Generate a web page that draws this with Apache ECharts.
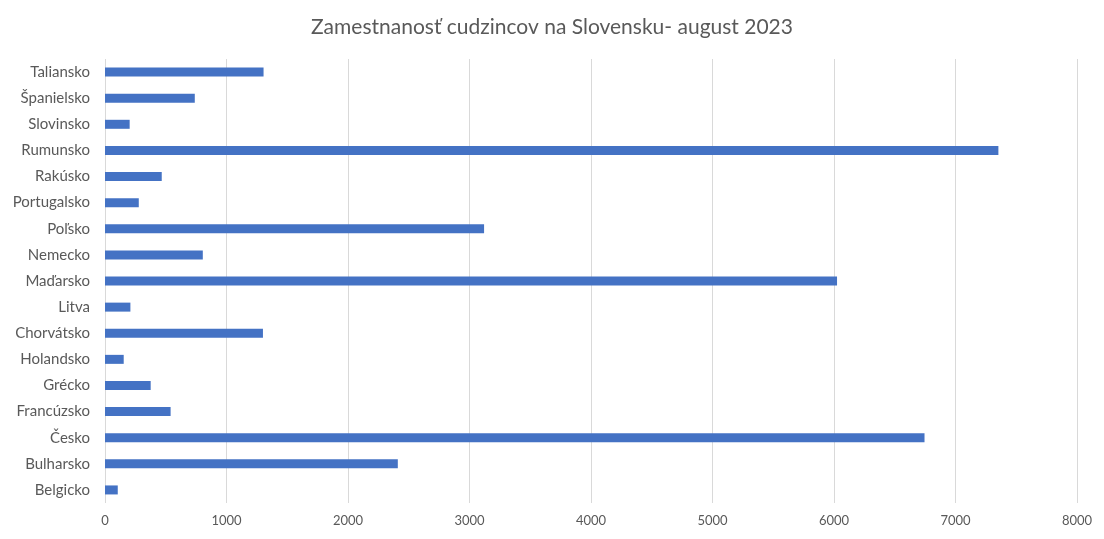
<!DOCTYPE html>
<html>
<head>
<meta charset="utf-8">
<script src="https://cdn.jsdelivr.net/npm/echarts@6/dist/echarts.min.js"></script>
<style>
html,body{margin:0;padding:0;background:#fff;}
#chart{width:1104px;height:539px;}
</style>
</head>
<body>
<div id="chart"></div>
<script>
const titleText = 'Zamestnanosť cudzincov na Slovensku- august 2023';
const categories = ['Belgicko','Bulharsko','Česko','Francúzsko','Grécko','Holandsko','Chorvátsko','Litva','Maďarsko','Nemecko','Poľsko','Portugalsko','Rakúsko','Rumunsko','Slovinsko','Španielsko','Taliansko'];
const values = [105, 2410, 6745, 540, 376, 154, 1300, 209, 6025, 805, 3120, 278, 467, 7353, 203, 739, 1305];
const axisMin = 0, axisMax = 8000, axisStep = 1000;

const chart = echarts.init(document.getElementById('chart'));
const font = 'Lato, "Open Sans", sans-serif';
chart.setOption({
  animation: false,
  backgroundColor: '#ffffff',
  title: {
    text: titleText,
    left: 'center',
    top: 12,
    textStyle: {fontFamily: font, fontSize: 21, fontWeight: 'normal', color: '#595959'}
  },
  grid: {left: 105, right: 27, top: 59, bottom: 36, containLabel: false},
  xAxis: {
    type: 'value',
    min: axisMin, max: axisMax, interval: axisStep,
    axisLine: {show: false},
    axisTick: {show: false},
    axisLabel: {fontFamily: font, fontSize: 13, color: '#595959', margin: 11, formatter: v => String(v)},
    splitLine: {show: true, lineStyle: {color: '#d9d9d9', width: 1}}
  },
  yAxis: {
    type: 'category',
    data: categories,
    axisLine: {show: false},
    axisTick: {show: false},
    axisLabel: {fontFamily: font, fontSize: 15, color: '#595959', margin: 15}
  },
  series: [{
    type: 'bar',
    data: values,
    barWidth: 9,
    itemStyle: {color: '#4472c4'}
  }]
});
</script>
</body>
</html>
